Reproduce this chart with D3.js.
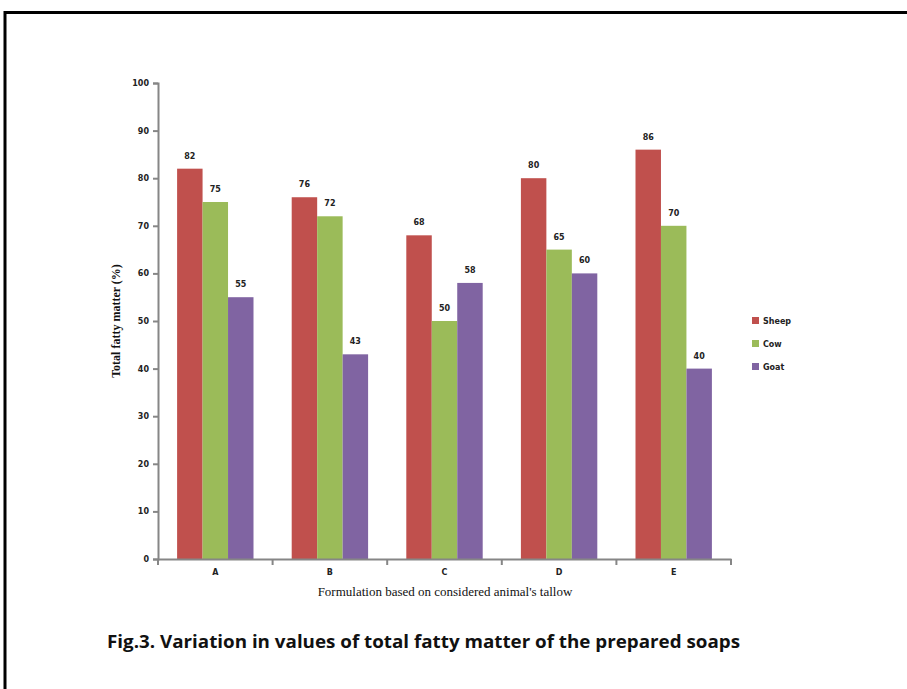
<!DOCTYPE html>
<html><head><meta charset="utf-8">
<script src="https://cdn.jsdelivr.net/npm/d3@7/dist/d3.min.js"></script>
<style>body{margin:0;background:#fff}svg{display:block}</style>
</head><body>
<svg id="c" width="907" height="689"></svg>
<script>
const categories = ["A","B","C","D","E"];
const seriesNames = ["Sheep","Cow","Goat"];
const sheep = [82,76,68,80,86];
const cow = [75,72,50,65,70];
const goat = [55,43,58,60,40];
const yTicks = [0,10,20,30,40,50,60,70,80,90,100];
const colors = ["#C0504D","#9BBB59","#8064A2"];
const series = [sheep, cow, goat];

const svg = d3.select("#c");
svg.append("rect").attr("x",5).attr("y",12.5).attr("width",1000).attr("height",1000)
  .attr("fill","none").attr("stroke","#000").attr("stroke-width",3);

const x0 = d3.scaleBand().domain(categories).range([158,731]).paddingInner(0).paddingOuter(0);
const bw = x0.bandwidth();
const x1 = d3.scaleBand().domain(seriesNames).range([bw*0.75/4.5, bw*3.75/4.5]).paddingInner(0).paddingOuter(0);
const y = d3.scaleLinear().domain([0,100]).range([559,83]);

const g = svg.append("g");
series.forEach((vals,si)=>{
  g.selectAll(null).data(vals).enter().append("rect")
    .attr("x",(d,i)=>x0(categories[i])+x1(seriesNames[si]))
    .attr("y",d=>y(d)).attr("width",x1.bandwidth()).attr("height",d=>y(0)-y(d))
    .attr("fill",colors[si]);
  g.selectAll(null).data(vals).enter().append("text")
    .attr("x",(d,i)=>x0(categories[i])+x1(seriesNames[si])+x1.bandwidth()/2)
    .attr("y",d=>y(d)-10).attr("text-anchor","middle")
    .attr("font-family","DejaVu Sans").attr("font-size",8).attr("font-weight","bold").attr("fill","#222")
    .text(d=>d);
});

const yAxis = svg.append("g").attr("transform","translate(158,0)")
  .call(d3.axisLeft(y).tickValues(yTicks).tickSize(5).tickPadding(4));
const xAxis = svg.append("g").attr("transform","translate(0,559)")
  .call(d3.axisBottom(x0).tickSize(0).tickPadding(10));
const bounds = categories.map(c=>x0(c)).concat([x0.range()[1]]);
svg.append("g").selectAll("line").data(bounds).enter().append("line")
  .attr("x1",d=>d).attr("x2",d=>d).attr("y1",559).attr("y2",565)
  .attr("stroke","#868686").attr("stroke-width",2);
[yAxis,xAxis].forEach(a=>{
  a.selectAll("path,line").attr("stroke","#868686").attr("stroke-width",2);
  a.selectAll("text").attr("font-family","DejaVu Sans").attr("font-size",8).attr("font-weight","bold").attr("fill","#222");
});

svg.append("text").attr("transform","translate(120,321) rotate(-90)").attr("text-anchor","middle")
  .attr("font-family","Liberation Serif").attr("font-size",12).attr("font-weight","bold").attr("fill","#111")
  .text("Total fatty matter (%)");
svg.append("text").attr("x",445).attr("y",596).attr("text-anchor","middle")
  .attr("font-family","Liberation Serif").attr("font-size",13).attr("fill","#111")
  .text("Formulation based on considered animal's tallow");

const leg = svg.append("g");
seriesNames.forEach((n,i)=>{
  leg.append("rect").attr("x",752).attr("y",317+i*23).attr("width",7).attr("height",7).attr("fill",colors[i]);
  leg.append("text").attr("x",763).attr("y",324+i*23).attr("font-family","DejaVu Sans").attr("font-size",8)
    .attr("font-weight","bold").attr("fill","#222").text(n);
});

svg.append("text").attr("x",107).attr("y",648)
  .attr("font-family","Open Sans").attr("font-size",17).attr("font-weight","bold").attr("fill","#111")
  .attr("textLength",633).attr("lengthAdjust","spacingAndGlyphs")
  .text("Fig.3. Variation in values of total fatty matter of the prepared soaps");
</script>
</body></html>
